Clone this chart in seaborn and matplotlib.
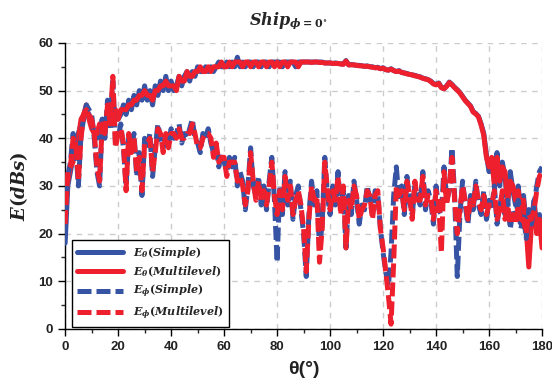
import numpy as np
import pandas as pd
import matplotlib
matplotlib.use("Agg")
import matplotlib.pyplot as plt
import seaborn as sns

# Scattered field of the ship model, phi = 0 deg cut, 1 deg sampling
theta = list(range(0, 181))

e_theta_simple = [
    18, 30, 33, 36, 38, 41, 43, 45, 46, 45,
    43, 41, 40, 42, 44, 42, 45, 43, 47, 45,
    44, 45, 47, 45, 48, 46, 49, 47, 50, 48,
    51, 48, 50, 47, 51, 49, 52, 50, 53, 50,
    52, 50, 51, 53, 51, 53, 54, 52, 54, 53,
    55, 54, 54, 55, 54, 55, 54, 55, 56, 55,
    55, 56, 55, 56, 55, 57, 55, 56, 55, 56,
    56, 55, 56, 56, 55, 56, 56, 55, 56, 56,
    56, 56, 55, 56, 56, 56, 56, 55, 56, 56,
    56, 56, 56, 56, 56, 56, 56, 56, 55.8, 55.8,
    55.8, 55.7, 55.8, 55.7, 55.6, 55.6, 56.3, 55.4, 55.5, 55.4,
    55.3, 55.3, 55.2, 55.1, 55.2, 55.0, 55.0, 54.8, 54.9, 54.6,
    54.8, 54.4, 54.3, 54.6, 54.2, 54.0, 54.2, 53.8, 53.7, 53.6,
    53.4, 53.3, 53.2, 53.0, 52.9, 52.6, 52.5, 52.3, 52.0, 51.5,
    51.3, 51.6, 50.7, 50.4, 51.0, 51.8, 51.3, 50.7, 50.2, 49.6,
    48.8, 48.0, 47.4, 46.8, 45.6, 45.2, 44.6, 43.0, 41.0, 36.5,
    33.0, 35.0, 31.0, 37.0, 30.0, 35.0, 32.0, 26.0, 33.0, 29.0,
    26.0, 30.0, 24.0, 28.0, 22.0, 25.0, 23.0, 27.0, 21.0, 24.0,
    19,
]

e_theta_multi = [
    24, 31, 34, 35, 39, 40, 44, 45, 47, 44,
    42, 41, 41, 43, 43, 43, 44, 44, 46, 46,
    44, 46, 46, 46, 47, 47, 48, 48, 49, 49,
    50, 49, 49, 48, 50, 50, 51, 51, 52, 51,
    51, 51, 50, 53, 52, 52, 54, 53, 53, 54,
    54, 55, 54, 54, 55, 54, 55, 55, 55, 56,
    55, 55, 56, 55, 56, 56, 56, 55, 56, 56,
    55, 56, 56, 55, 56, 56, 55, 56, 56, 55,
    56, 55, 56, 56, 55, 56, 56, 56, 55, 56,
    56, 56, 56, 55.9, 56, 56, 55.9, 55.9, 55.8, 55.8,
    55.8, 55.7, 55.7, 55.7, 55.6, 55.5, 56.2, 55.4, 55.4, 55.4,
    55.3, 55.2, 55.2, 55.1, 55.1, 55.0, 54.9, 54.8, 54.8, 54.6,
    54.7, 54.4, 54.3, 54.5, 54.2, 54.0, 54.1, 53.8, 53.7, 53.5,
    53.4, 53.3, 53.1, 53.0, 52.8, 52.6, 52.4, 52.3, 51.9, 51.4,
    51.2, 51.5, 50.6, 50.4, 50.9, 51.7, 51.2, 50.6, 50.1, 49.5,
    48.7, 47.9, 47.3, 46.7, 45.5, 45.1, 44.5, 42.8, 40.6, 36.0,
    34.0, 36.0, 30.0, 36.0, 31.0, 34.0, 33.0, 27.0, 31.0, 30.0,
    27.0, 29.0, 25.0, 27.0, 21.0, 13.0, 22.0, 26.0, 20.0, 23.0,
    17,
]

e_phi_simple = [
    20, 32, 35, 41, 38, 30, 41, 44, 47, 46,
    45, 40, 33, 30, 44, 40, 48, 42, 52, 39,
    40, 43, 38, 30, 40, 38, 41, 32, 37, 28,
    40, 38, 41, 32, 38, 43, 40, 38, 40, 39,
    42, 40, 41, 43, 39, 41, 40, 42, 44, 40,
    39, 37, 41, 40, 42, 39, 37, 38, 34, 37,
    35, 33, 36, 34, 36, 30, 33, 31, 25, 30,
    38, 30, 28, 32, 26, 30, 25, 31, 36, 27,
    14, 30, 24, 33, 26, 31, 23, 28, 30, 25,
    20, 11, 24, 31, 26, 29, 17, 22, 36, 28,
    24, 30, 26, 33, 25, 29, 17, 28, 24, 31,
    27, 22, 26, 25, 30, 27, 24, 29, 28, 21,
    16, 12, 9, 16, 28, 34, 27, 30, 24, 32,
    27, 24, 30, 28, 26, 33, 25, 29, 27, 22,
    30, 25, 24, 34, 27, 29, 38, 28, 11, 24,
    31, 26, 22, 28, 25, 31, 26, 24, 29, 23,
    27, 25, 30, 22, 26, 28, 24, 27, 21, 25,
    23, 27, 21, 24, 19, 25, 22, 26, 30, 33,
    34,
]

e_phi_multi = [
    22, 33, 34, 40, 39, 31, 40, 45, 46, 45,
    44, 41, 34, 31, 43, 41, 47, 43, 53, 38,
    41, 42, 39, 29, 41, 37, 40, 33, 36, 29,
    39, 39, 40, 33, 37, 42, 41, 37, 41, 38,
    41, 41, 40, 42, 40, 40, 41, 41, 43, 41,
    38, 38, 40, 41, 41, 40, 36, 39, 35, 36,
    36, 32, 35, 35, 35, 31, 32, 30, 26, 29,
    37, 31, 27, 31, 27, 29, 26, 30, 35, 28,
    24, 29, 25, 32, 27, 30, 24, 27, 29, 26,
    21, 12, 23, 30, 27, 28, 14, 21, 35, 29,
    25, 29, 27, 32, 24, 30, 17, 27, 25, 30,
    28, 23, 25, 26, 29, 28, 23, 28, 29, 21,
    17, 12, 7, 1, 14, 30, 28, 29, 25, 31,
    28, 23, 31, 27, 27, 32, 26, 28, 28, 23,
    29, 26, 16, 33, 26, 30, 36, 27, 20, 25,
    30, 27, 23, 27, 26, 30, 27, 25, 28, 24,
    26, 26, 29, 23, 25, 29, 23, 26, 22, 24,
    22, 26, 22, 23, 20, 24, 23, 25, 29, 32,
    33,
]

series_labels = [
    r"$E_\theta(Simple)$",
    r"$E_\theta(Multilevel)$",
    r"$E_\phi(Simple)$",
    r"$E_\phi(Multilevel)$",
]

sns.set_style("ticks")
plt.rcParams["font.family"] = ["Liberation Sans", "DejaVu Sans"]
plt.rcParams["mathtext.fontset"] = "custom"
plt.rcParams["mathtext.it"] = "DejaVu Serif:italic:bold"
plt.rcParams["mathtext.rm"] = "DejaVu Serif:bold"
plt.rcParams["mathtext.bf"] = "DejaVu Serif:bold"

blue = "#3653A4"
red = "#EE202E"
dash = (0, (2.8, 1.0))

df = pd.DataFrame({
    "theta": theta,
    "ets": e_theta_simple,
    "etm": e_theta_multi,
    "eps": e_phi_simple,
    "epm": e_phi_multi,
})

fig = plt.figure(figsize=(5.52, 3.87), dpi=100)
ax = fig.add_axes([0.118, 0.150, 0.864, 0.739])

lw = 3.6
sns.lineplot(data=df, x="theta", y="ets", ax=ax, color=blue, lw=lw,
             label=series_labels[0], zorder=3)
sns.lineplot(data=df, x="theta", y="etm", ax=ax, color=red, lw=lw,
             label=series_labels[1], zorder=4)
sns.lineplot(data=df, x="theta", y="eps", ax=ax, color=blue, lw=lw,
             linestyle=dash, label=series_labels[2], zorder=5)
sns.lineplot(data=df, x="theta", y="epm", ax=ax, color=red, lw=lw,
             linestyle=dash, label=series_labels[3], zorder=6)

ax.set_xlim(0, 180)
ax.set_ylim(0, 60)
ax.set_xticks(np.arange(0, 181, 20))
ax.set_xticks(np.arange(0, 181, 10), minor=True)
ax.set_yticks(np.arange(0, 61, 10))
ax.set_yticks(np.arange(0, 61, 5), minor=True)
ax.tick_params(axis="both", which="major", direction="out", length=5,
               width=1, labelsize=9.5, colors="black")
ax.tick_params(axis="both", which="minor", direction="out", length=3, width=1)
for lab in ax.get_xticklabels() + ax.get_yticklabels():
    lab.set_fontweight("bold")
    lab.set_color("#222222")

ax.grid(True, which="major", linestyle=(0, (4, 4)), color="#CCCCCC", lw=1)
ax.set_axisbelow(True)
for s in ["top", "right"]:
    ax.spines[s].set_visible(False)
for s in ["left", "bottom"]:
    ax.spines[s].set_linewidth(1)
    ax.spines[s].set_color("black")

ax.set_xlabel("θ(°)", fontsize=14, fontweight="bold", color="#222222",
              labelpad=6)
ax.set_ylabel(r"$E(dBs)$", fontsize=13, color="#222222", labelpad=6)

fig.text(0.522, 0.948, r"$Ship_{\phi=0^{\circ}}$", fontsize=11.5,
         ha="center", va="center")

leg = ax.legend(loc="lower left", bbox_to_anchor=(0.015, 0.007),
                borderaxespad=0, fancybox=False, frameon=True,
                edgecolor="black", fontsize=8, handlelength=4.1,
                labelspacing=0.38, borderpad=0.45, handletextpad=0.9)
leg.get_frame().set_linewidth(1)
leg.get_frame().set_alpha(1)
leg.set_zorder(10)

fig.savefig("out.png", dpi=100)
